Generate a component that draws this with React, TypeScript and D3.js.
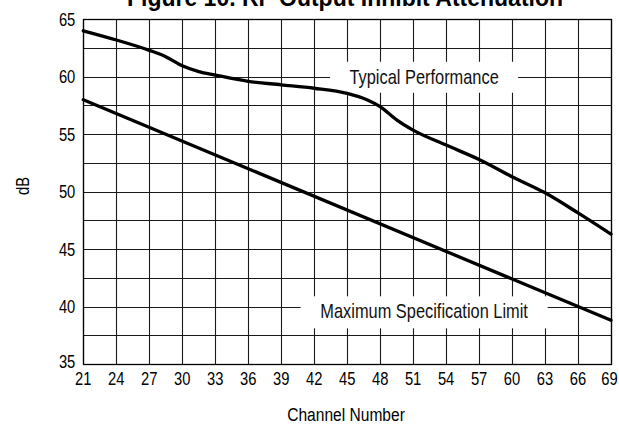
import React from "react";
import * as d3 from "d3";

const channelTicks = [21, 24, 27, 30, 33, 36, 39, 42, 45, 48, 51, 54, 57, 60, 63, 66, 69];
const dbTicks = [35, 40, 45, 50, 55, 60, 65];
const dbGrid = [35, 37.5, 40, 42.5, 45, 47.5, 50, 52.5, 55, 57.5, 60, 62.5, 65];

const typicalChannel = [21, 24, 27, 28.5, 30, 31.5, 33, 36, 39, 42, 45, 46.8, 48, 49.5, 51, 54, 57, 60, 63, 66, 69];
const typicalDb = [64.0, 63.2, 62.3, 61.75, 60.95, 60.45, 60.15, 59.6, 59.3, 59.0, 58.55, 58.0, 57.4, 56.25, 55.35, 54.05, 52.8, 51.3, 49.9, 48.15, 46.3];

const maxSpecChannel = [21, 69];
const maxSpecDb = [58.0, 38.8];

const titleText = "Figure 10. RF Output Inhibit Attenuation";
const xLabel = "Channel Number";
const yLabel = "dB";
const typicalLabel = "Typical Performance";
const maxSpecLabel = "Maximum Specification Limit";

const W = 619;
const H = 425;
const L = 83.3, R = 611, T = 19.3, B = 364;
const FONT = "'Liberation Sans', Arial, sans-serif";
const SX = 0.82;

function NText(props: { x: number; y: number; size: number; anchor?: string; children: React.ReactNode; rotate?: number; fill?: string }) {
  const { x, y, size, anchor = "middle", children, rotate = 0, fill = "#000" } = props;
  return (
    <g transform={`translate(${x},${y}) rotate(${rotate}) scale(${SX},1)`}>
      <text x={0} y={0} textAnchor={anchor} fontFamily={FONT} fontSize={size} fill={fill}>
        {children}
      </text>
    </g>
  );
}

const px = (v: number) => Math.round(v) + 0.5;

export default function App() {
  const x = d3.scaleLinear().domain([21, 69]).range([L, R]);
  const y = d3.scaleLinear().domain([35, 65]).range([B, T]);
  const line = d3
    .line<[number, number]>()
    .x((d) => x(d[0]))
    .y((d) => y(d[1]))
    .curve(d3.curveMonotoneX);
  const typical = typicalChannel.map((c, i) => [c, typicalDb[i]] as [number, number]);
  const maxSpec = maxSpecChannel.map((c, i) => [c, maxSpecDb[i]] as [number, number]);

  const typCx = x(52), typCy = y(60);
  const maxCx = x(52), maxCy = y(39.5);

  return (
    <svg width={W} height={H} style={{ position: "absolute", left: 0, top: 0, background: "#fff" }}>
      <rect x={0} y={0} width={W} height={H} fill="#fff" />
      <text x={345} y={6} textAnchor="middle" fontFamily={FONT} fontWeight="bold" fontSize={23} fill="#000">
        {titleText}
      </text>
      <g stroke="#1a1a1a" strokeWidth={1.1}>
        {dbGrid.map((d) => (
          <line key={"h" + d} x1={L} x2={R} y1={px(y(d))} y2={px(y(d))} />
        ))}
        {channelTicks.map((c) => (
          <line key={"v" + c} x1={px(x(c))} x2={px(x(c))} y1={T} y2={B} />
        ))}
      </g>
      <rect x={px(L)} y={px(T)} width={Math.round(R - L)} height={Math.round(B - T)} fill="none" stroke="#000" strokeWidth={1.3} />
      <rect x={typCx - 94} y={typCy - 15} width={188} height={31} fill="#fff" />
      <rect x={maxCx - 123.5} y={maxCy - 16} width={247} height={32} fill="#fff" />
      <NText x={typCx} y={typCy + 7} size={20} fill="#111">{typicalLabel}</NText>
      <NText x={maxCx} y={maxCy + 6} size={20} fill="#111">{maxSpecLabel}</NText>
      <path d={line(typical) || ""} fill="none" stroke="#000" strokeWidth={3.3} strokeLinecap="round" />
      <path d={line(maxSpec) || ""} fill="none" stroke="#000" strokeWidth={3.3} strokeLinecap="round" />
      {channelTicks.map((c) => (
        <NText key={"xt" + c} x={Math.min(x(c), W - 9.5)} y={B + 21} size={18}>
          {c}
        </NText>
      ))}
      {dbTicks.map((d) => (
        <NText key={"yt" + d} x={L - 8} y={y(d) + (d === 35 ? 4 : 6.5)} size={18} anchor="end">
          {d}
        </NText>
      ))}
      <NText x={346} y={421} size={19}>{xLabel}</NText>
      <NText x={28.5} y={186} size={18} rotate={-90}>{yLabel}</NText>
    </svg>
  );
}
